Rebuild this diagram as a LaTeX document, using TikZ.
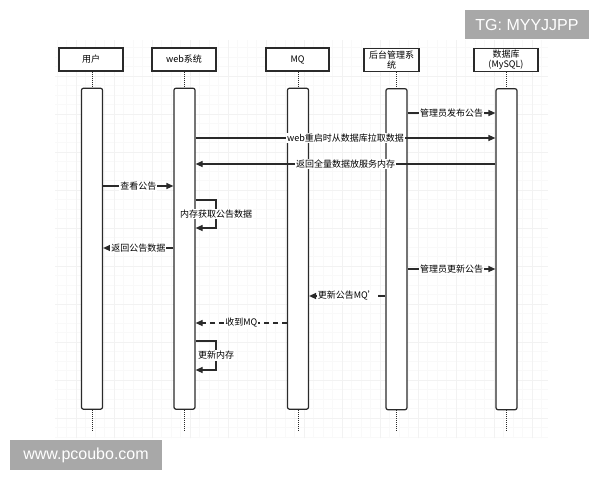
\documentclass[tikz,border=0pt]{standalone}
\usepackage{fontspec}
\setmainfont{Noto Sans CJK SC}
\newfontfamily\markfont{Liberation Sans}
\usetikzlibrary{positioning, arrows.meta}
\definecolor{seqgray}{HTML}{2A2A2A}
\definecolor{markgray}{HTML}{A8A8A8}
\tikzset{
  % Sequence diagram
  seqhead/.style  = { draw=seqgray, line width=1.2pt, fill=white, minimum width=64pt,
                       minimum height=23pt, inner sep=0pt, align=center, text=black,
                       font=\fontsize{9}{10}\selectfont },
  lifeline/.style = { seqgray, line width=1pt, densely dotted },
  actbar/.style   = { draw=seqgray, line width=1.2pt, fill=white, rounded corners=2pt,
                       minimum width=21pt, minimum height=321pt, inner sep=0 },
  syncmsg/.style  = { seqgray, line width=1.2pt, -{Triangle[length=7pt, width=6pt]} },
  retmsg/.style   = { seqgray, line width=1.2pt, dash pattern=on 5pt off 4pt,
                       -{Triangle[length=7pt, width=6pt]} },
  seqlabel/.style = { font=\fontsize{9}{10}\selectfont, text=black, fill=white, inner sep=1pt },
  % Background and marks
  gridminor/.style = { gray!5, line width=0.5pt },
  gridmajor/.style = { gray!10, line width=0.6pt },
  markbox/.style  = { fill=markgray, text=white, inner sep=0pt,
                       font=\markfont\fontsize{16}{18}\selectfont }
}

\begin{document}
\begin{tikzpicture}[x=1pt, y=-1pt]

  \useasboundingbox[fill=white] (0,0) rectangle (600,480);
  \draw[gridminor, step=9.5pt] (55,438) grid (548,40);
  \draw[gridmajor, step=38pt] (55,438) grid (548,40);

  \node[seqhead] (userhead) at (91,59.5) {用户};
  \node[seqhead] (webhead) at (184,59.5) {web系统};
  \node[seqhead, minimum width=63pt] (mqhead) at (297.5,59.5) {MQ};
  \node[seqhead, minimum width=55pt] (adminhead) at (391.5,60) {后台管理系\\统};
  \node[seqhead] (dbhead) at (506,60) {数据库\\(MySQL)};

  \node[actbar, below=16pt of userhead, xshift=1pt] (userbar) {};
  \node[actbar, below=16pt of webhead, xshift=0.5pt] (webbar) {};
  \node[actbar, below=16pt of mqhead, xshift=0.5pt] (mqbar) {};
  \node[actbar, below=16pt of adminhead, xshift=5pt] (adminbar) {};
  \node[actbar, below=16pt of dbhead, xshift=0.5pt] (dbbar) {};

  \foreach \who in {user,web,mq,admin,db} {
    \coordinate (\who end) at ([yshift=-22pt]\who bar.south);
    \draw[lifeline] (\who bar.north |- \who head.south) -- (\who bar.north);
    \draw[lifeline] (\who bar.south) -- (\who end);
  }

  % message rows
  \coordinate (m1) at (0,113);
  \coordinate (m2) at (0,138);
  \coordinate (m3) at (0,164);
  \coordinate (m4) at (0,186);
  \coordinate (m6) at (0,248);
  \coordinate (m7) at (0,269);
  \coordinate (m8) at (0,296);
  \coordinate (m9) at (0,323);
  \coordinate (s1top) at (216,200);
  \coordinate (s1bot) at (216,228);
  \coordinate (s2top) at (216,341);
  \coordinate (s2bot) at (216,370);

  \draw[syncmsg] (adminbar.east |- m1) -- node[seqlabel]{管理员发布公告} (dbbar.west |- m1);
  \draw[syncmsg] (webbar.east |- m2) -- node[seqlabel]{web重启时从数据库拉取数据} (dbbar.west |- m2);
  \draw[syncmsg] (dbbar.west |- m3) -- node[seqlabel]{返回全量数据放服务内存} (webbar.east |- m3);
  \draw[syncmsg] (userbar.east |- m4) -- node[seqlabel]{查看公告} (webbar.west |- m4);
  \draw[syncmsg] (webbar.east |- s1top) -- (s1top) -- node[seqlabel]{内存获取公告数据} (s1bot) -- (webbar.east |- s1bot);
  \draw[syncmsg] (webbar.west |- m6) -- node[seqlabel]{返回公告数据} (userbar.east |- m6);
  \draw[syncmsg] (adminbar.east |- m7) -- node[seqlabel]{管理员更新公告} (dbbar.west |- m7);
  \draw[syncmsg] (adminbar.west |- m8) -- node[seqlabel]{更新公告MQ'} (mqbar.east |- m8);
  \draw[retmsg] (mqbar.west |- m9) -- node[seqlabel]{收到MQ} (webbar.east |- m9);
  \draw[syncmsg] (webbar.east |- s2top) -- (s2top) -- node[seqlabel]{更新内存} (s2bot) -- (webbar.east |- s2bot);

  \node[markbox, minimum width=124pt, minimum height=29pt] (tgmark) at (527,24.5) {TG: MYYJJPP};
  \node[markbox, minimum width=152pt, minimum height=30pt] (sitemark) at (86,455) {www.pcoubo.com};

\end{tikzpicture}
\end{document}
